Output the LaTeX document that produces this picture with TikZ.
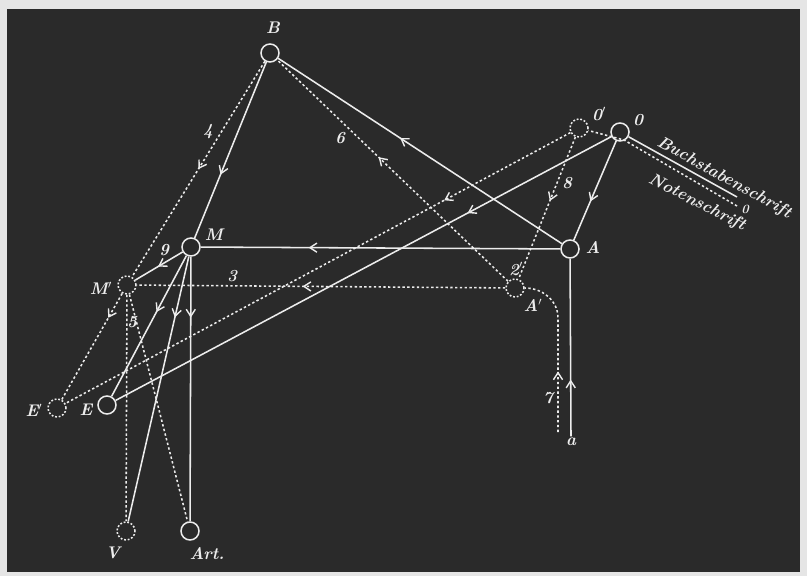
\documentclass[tikz,border=0pt]{standalone}
\usepackage{tikz}
\usetikzlibrary{arrows.meta,decorations.markings}
\definecolor{boardgrey}{RGB}{42,42,42}
\definecolor{chalkwhite}{RGB}{236,236,236}
\begin{document}
\begin{tikzpicture}[x=0.025cm,y=-0.025cm,>=Latex,
  pt/.style={circle,draw=chalkwhite,line width=1.1pt,minimum size=0.45cm,inner sep=0pt},
  ptd/.style={pt,dash pattern=on 1.3pt off 1.3pt},
  lab/.style={text=chalkwhite,font=\large\bfseries\itshape,inner sep=1pt},
  wline/.style={draw=chalkwhite,line width=1.1pt},
  dline/.style={wline,dash pattern=on 1.7pt off 1.7pt},
  flow/.style={postaction={decorate,decoration={markings,mark=at position #1 with {\arrow[chalkwhite,line width=1pt]{Straight Barb[length=5pt,width=6.5pt]}}}}}]
\useasboundingbox (0,0) rectangle (807,576);
\fill[black!10] (0,0) rectangle (807,576);
\fill[boardgrey] (7,9) rectangle (800,572);
% points on the board
\node[pt] (B) at (270,53) {};
\node[pt] (O) at (620,132) {};
\node[ptd] (Op) at (579,128) {};
\node[pt] (A) at (570,249) {};
\node[ptd] (Ap) at (515,288) {};
\node[pt] (M) at (191,247) {};
\node[ptd] (Mp) at (127,285) {};
\node[pt] (E) at (107,405) {};
\node[ptd] (Ep) at (57,408) {};
\node[ptd] (V) at (126,531) {};
\node[pt] (Art) at (190,531) {};
\node[lab] (a) at (571,442) {a};
\coordinate (a7) at (558,432);
\coordinate (abend) at (558,318);
\coordinate (buch) at (737,197);
\coordinate (noten) at (737,206);
\coordinate (nbend) at (624,140);
% labels
\node[lab] (lB) at (273,28) {B};
\node[lab] (lO) at (638,120) {0};
\node[lab] (lOp) at (599,114) {0$'$};
\node[lab] (lA) at (593,248) {A};
\node[lab] (lAp) at (533,305) {A$'$};
\node[lab] (lM) at (214,235) {M};
\node[lab] (lMp) at (101,288) {M$'$};
\node[lab] (lE) at (86,410) {E};
\node[lab] (lEp) at (34,410) {E$'$};
\node[lab] (lV) at (113,553) {V};
\node[lab] (lArt) at (207,554) {Art.};
\node[lab,font=\small\bfseries\itshape] (lo) at (745,209) {0};
\node[lab] (n2) at (516,269) {2$'$};
\node[lab] (n3) at (232,276) {3};
\node[lab] (n4) at (208,132) {4};
\node[lab] (n5) at (132,322) {5};
\node[lab] (n6) at (340,138) {6};
\node[lab] (n7) at (548,398) {7};
\node[lab] (n8) at (567,183) {8};
\node[lab] (n9) at (164,250) {9};
\node[lab,font=\fontsize{12}{14}\selectfont\bfseries\itshape,rotate=-29] (tB) at (724,178) {Buchstabenschrift};
\node[lab,font=\fontsize{12}{14}\selectfont\bfseries\itshape,rotate=-27] (tN) at (697,203) {Notenschrift};
% solid way
\draw[wline] (buch) -- (O);
\draw[wline,flow=0.32] (a.north) -- (A);
\draw[wline,flow=0.57] (A) -- (B);
\draw[wline,flow=0.64] (B) -- (M);
\draw[wline,flow=0.70] (A) -- (M);
\draw[wline,flow=0.61] (O) -- (A);
\draw[wline,flow=0.29] (O) -- (E);
\draw[wline,flow=0.52] (M) -- (Mp);
\draw[wline,flow=0.40] (M) -- (E);
\draw[wline,flow=0.23] (M) -- (V);
\draw[wline,flow=0.23] (M) -- (Art);
% dashed way
\draw[dline] (noten) -- (nbend) -- (Op);
\draw[dline,flow=0.37] (a7) -- (abend) to[out=90,in=0] (Ap);
\draw[dline,flow=0.56] (Ap) -- (B);
\draw[dline,flow=0.50] (B) -- (Mp);
\draw[dline,flow=0.55] (Ap) -- (Mp);
\draw[dline,flow=0.45] (Op) -- (Ap);
\draw[dline,flow=0.25] (Op) -- (Ep);
\draw[dline,flow=0.23] (Mp) -- (Ep);
\draw[dline] (Mp) -- (V);
\draw[dline] (Mp) -- (Art);
\end{tikzpicture}
\end{document}
